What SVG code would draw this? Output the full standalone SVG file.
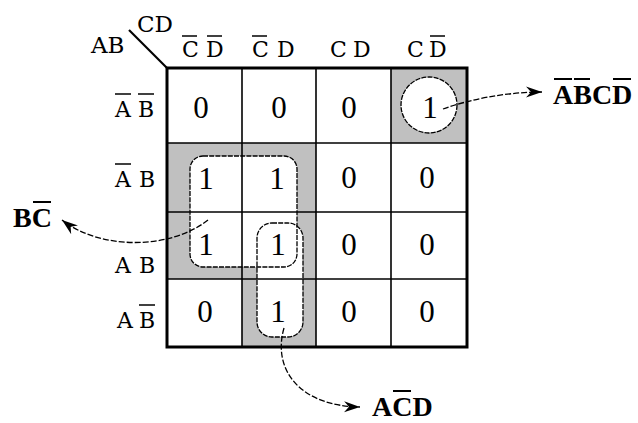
<svg xmlns="http://www.w3.org/2000/svg" width="638" height="423" viewBox="0 0 638 423">
<defs>
<style>
.lab{font-family:"DejaVu Serif","Liberation Serif",serif;font-size:22px;fill:#000}
.dig{font-family:"Liberation Serif","DejaVu Serif",serif;font-size:31px;text-anchor:middle;fill:#000}
.ser{font-family:"DejaVu Serif","Liberation Serif",serif;font-size:23px;fill:#000}
.res{font-family:"Liberation Serif","DejaVu Serif",serif;font-weight:bold;font-size:28px;fill:#000}
.ovl{stroke:#000;stroke-width:1.5}
.ovr{stroke:#000;stroke-width:2}
.grid{stroke:#000;stroke-width:1.6;fill:none}
.loop{fill:none;stroke:#000;stroke-width:1.3;stroke-dasharray:5 1.2}
.conn{fill:none;stroke:#000;stroke-width:1.3;stroke-dasharray:6 2}
</style>
<marker id="ah" markerUnits="userSpaceOnUse" markerWidth="18" markerHeight="12" refX="16" refY="6" orient="auto">
<path d="M0,0.5 L16,6 L0,11.5 L5,6 z" fill="#000"/>
</marker>
</defs>
<rect width="638" height="423" fill="#fff"/>
<g id="shading" fill="#c0c0c0">
<rect x="391" y="68" width="76" height="75"/>
<rect x="167" y="143" width="149" height="136"/>
<rect x="242" y="279" width="74" height="68"/>
</g>
<g id="loop-fills" fill="#fff">
<rect x="190" y="156" width="107" height="111" rx="13"/>
<rect x="257" y="223" width="46" height="114" rx="15"/>
<circle cx="429" cy="105" r="28"/>
</g>
<g id="grid">
<line class="grid" x1="242" y1="68" x2="242" y2="347"/>
<line class="grid" x1="316" y1="68" x2="316" y2="347"/>
<line class="grid" x1="391" y1="68" x2="391" y2="347"/>
<line class="grid" x1="167" y1="143" x2="467" y2="143"/>
<line class="grid" x1="167" y1="212" x2="467" y2="212"/>
<line class="grid" x1="167" y1="279" x2="467" y2="279"/>
<rect x="167" y="68" width="300" height="279" fill="none" stroke="#000" stroke-width="3"/>
<line x1="129" y1="30" x2="167" y2="68" stroke="#000" stroke-width="2.2"/>
</g>
<g id="loop-BC">
<rect class="loop" x="190" y="156" width="107" height="111" rx="13"/>
</g>
<g id="loop-ACD">
<rect class="loop" x="257" y="223" width="46" height="114" rx="15"/>
</g>
<g id="loop-ABCD">
<circle class="loop" cx="429" cy="105" r="28"/>
</g>
<g id="corner-label">
<text class="ser" x="91" y="53">AB</text>
<text class="ser" x="137" y="32">CD</text>
</g>
<g id="col-headers">
<text class="lab" x="182 198 206" y="57">C D</text>
<line class="ovl" x1="182" y1="36" x2="197" y2="36"/>
<line class="ovl" x1="207" y1="36" x2="222" y2="36"/>
<text class="lab" x="252 268 277" y="57">C D</text>
<line class="ovl" x1="252" y1="36" x2="267" y2="36"/>
<text class="lab" x="330 346 353" y="57">C D</text>
<text class="lab" x="407 423 429" y="57">C D</text>
<line class="ovl" x1="430" y1="36" x2="445" y2="36"/>
</g>
<g id="row-headers">
<text class="lab" x="115 131 138" y="117">A B</text>
<line class="ovl" x1="115" y1="94" x2="131" y2="94"/>
<line class="ovl" x1="138" y1="94" x2="154" y2="94"/>
<text class="lab" x="115 131 139" y="187">A B</text>
<line class="ovl" x1="115" y1="164" x2="131" y2="164"/>
<text class="lab" x="115 131 139" y="273">A B</text>
<text class="lab" x="117 133 139" y="328">A B</text>
<line class="ovl" x1="139" y1="305" x2="155" y2="305"/>
</g>
<g id="cells">
<text class="dig" x="201" y="118">0</text>
<text class="dig" x="279" y="118">0</text>
<text class="dig" x="349" y="118">0</text>
<text class="dig" x="430" y="118">1</text>
<text class="dig" x="206" y="189">1</text>
<text class="dig" x="277" y="189">1</text>
<text class="dig" x="349" y="188">0</text>
<text class="dig" x="427" y="188">0</text>
<text class="dig" x="206" y="255">1</text>
<text class="dig" x="278" y="255">1</text>
<text class="dig" x="349" y="255">0</text>
<text class="dig" x="427" y="255">0</text>
<text class="dig" x="205" y="322">0</text>
<text class="dig" x="278" y="322">1</text>
<text class="dig" x="349" y="322">0</text>
<text class="dig" x="427" y="322">0</text>
</g>
<g id="connectors">
<path class="conn" d="M443,109 C468,100 505,92 542,92" marker-end="url(#ah)"/>
<path class="conn" d="M208,220 C170,250 100,250 62,220" marker-end="url(#ah)"/>
<path class="conn" d="M284,328 C272,370 300,406 360,407" marker-end="url(#ah)"/>
</g>
<g id="result-labels">
<text class="res" x="553" y="104">ABCD</text>
<line class="ovr" x1="554" y1="79" x2="572" y2="79"/>
<line class="ovr" x1="574" y1="79" x2="590" y2="79"/>
<line class="ovr" x1="613" y1="79" x2="631" y2="79"/>
<text class="res" x="13" y="227">BC</text>
<line class="ovr" x1="33" y1="202" x2="51" y2="202"/>
<text class="res" x="372" y="416">ACD</text>
<line class="ovr" x1="393" y1="391" x2="411" y2="391"/>
</g>
</svg>
